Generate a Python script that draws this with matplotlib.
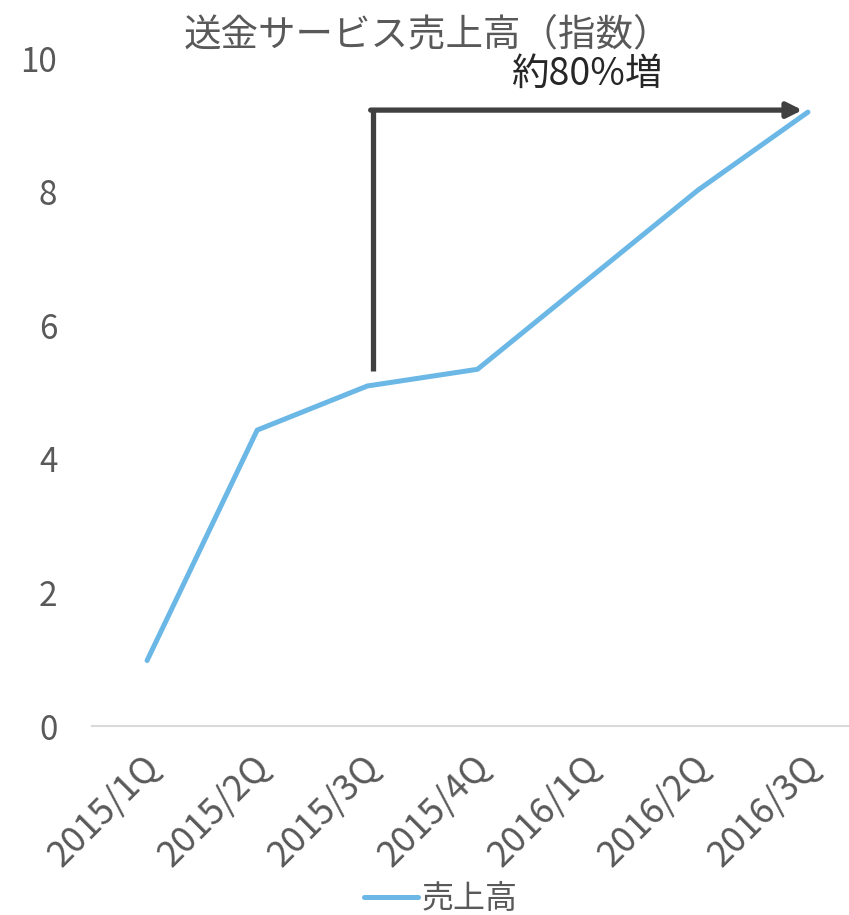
import matplotlib.pyplot as plt
from matplotlib.transforms import ScaledTranslation

plt.rcParams['font.family'] = ['Noto Sans CJK JP', 'DejaVu Sans']

# data
quarters = ['2015/1Q', '2015/2Q', '2015/3Q', '2015/4Q', '2016/1Q', '2016/2Q', '2016/3Q']
sales = [0.98, 4.43, 5.09, 5.34, 6.68, 8.02, 9.19]
yticks = [0, 2, 4, 6, 8, 10]

line_color = '#6BB7E6'
text_color = '#595959'
arrow_color = '#404040'

fig = plt.figure(figsize=(8.49, 9.15), dpi=100)
ax = fig.add_axes([92 / 849, 189 / 915, 771 / 849, 668 / 915])

x = list(range(len(quarters)))
ax.plot(x, sales, color=line_color, linewidth=3.6, solid_capstyle='round', label='売上高')

ax.set_xlim(-0.5, len(quarters) - 0.5)
ax.set_ylim(0, 10)
ax.set_yticks(yticks)
ax.set_xticks(x)
ax.set_xticklabels(quarters, rotation=45, ha='right', va='top', rotation_mode='anchor')
ax.tick_params(axis='y', length=0, labelsize=24, labelcolor=text_color, pad=25)
ax.tick_params(axis='x', length=0, labelsize=26, labelcolor=text_color, pad=16)
# nudge the rotated labels a little to the left
shift = ScaledTranslation(-6 / 100, 0, fig.dpi_scale_trans)
for lbl in ax.get_xticklabels():
    lbl.set_transform(lbl.get_transform() + shift)

for s in ['left', 'right', 'top']:
    ax.spines[s].set_visible(False)
ax.spines['bottom'].set_color('#D9D9D9')
ax.spines['bottom'].set_linewidth(1.5)

# annotation: bent arrow from 2015/3Q up and across to 2016/3Q
x0 = 2.05
y_low = sales[2] + 0.22
y_top = sales[-1] + 0.03
ax.plot([x0, x0], [y_low, y_top], color=arrow_color, linewidth=3.8, solid_capstyle='butt')
ax.annotate('', xy=(x[-1] - 0.05, y_top), xytext=(x0 - 0.02, y_top),
            arrowprops=dict(arrowstyle='-|>,head_length=0.9,head_width=0.45',
                            color=arrow_color, linewidth=3.8, shrinkA=0, shrinkB=0))
ax.text(3.99, 9.75, '約80%増', ha='center', va='center', fontsize=27, color='#262626')

fig.text(0.503, 0.962, '送金サービス売上高（指数）', ha='center', va='center',
         fontsize=27, color=text_color)

leg = fig.legend(loc='center', bbox_to_anchor=(0.519, 0.017), frameon=False,
                 fontsize=23, handlelength=1.7, handletextpad=0.1)
for t in leg.get_texts():
    t.set_color(text_color)

fig.savefig('out.png', dpi=100)
